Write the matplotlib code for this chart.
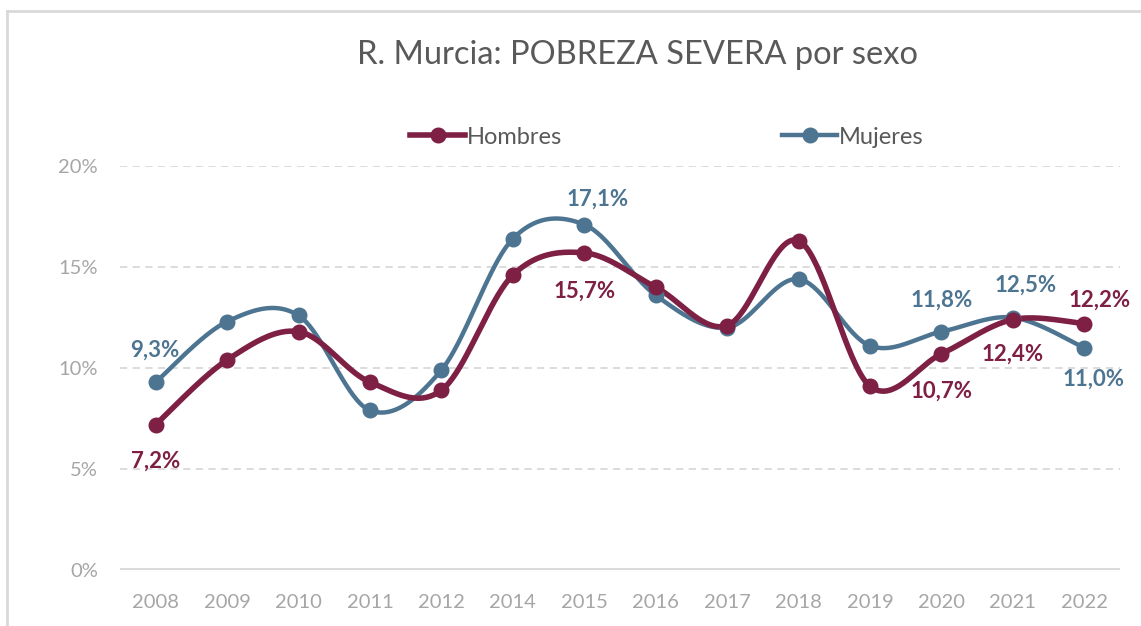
import numpy as np
import matplotlib
matplotlib.use("Agg")
import matplotlib.pyplot as plt
from matplotlib.lines import Line2D
from matplotlib.ticker import FuncFormatter

plt.rcParams['font.family'] = ['Lato', 'DejaVu Sans']

# datos (%)
years = ['2008', '2009', '2010', '2011', '2012', '2014', '2015',
         '2016', '2017', '2018', '2019', '2020', '2021', '2022']
hombres = [7.2, 10.4, 11.8, 9.3, 8.9, 14.6, 15.7, 14.0, 12.1, 16.3, 9.1, 10.7, 12.4, 12.2]
mujeres = [9.3, 12.3, 12.6, 7.9, 9.9, 16.4, 17.1, 13.6, 12.0, 14.4, 11.1, 11.8, 12.5, 11.0]

C_H = '#7E1F44'
C_M = '#4D7591'
GRID = '#D9D9D9'
TXT = '#A6A6A6'

# etiquetas visibles: (indice, dx px, dy px)
labels_h = [(0, 0, -37), (6, 0, -38), (11, 0, -37), (12, 0, -35), (13, 15, 23)]
labels_m = [(0, -1, 32), (6, 13, 25), (11, 0, 31), (12, 13, 32), (13, 9, -31)]


def smooth(xs, ys, n=40):
    """curva suavizada tipo Excel (bezier con tangentes catmull-rom)"""
    p = np.column_stack([xs, ys]).astype(float)
    ext = np.vstack([p[0], p, p[-1]])
    out = []
    t = np.linspace(0, 1, n)[:, None]
    for i in range(len(p) - 1):
        p0, p1, p2, p3 = ext[i], ext[i + 1], ext[i + 2], ext[i + 3]
        c1 = p1 + (p2 - p0) / 6
        c2 = p2 - (p3 - p1) / 6
        seg = ((1 - t) ** 3) * p1 + 3 * ((1 - t) ** 2) * t * c1 + 3 * (1 - t) * t ** 2 * c2 + t ** 3 * p2
        out.append(seg if i == 0 else seg[1:])
    out = np.vstack(out)
    return out[:, 0], out[:, 1]


def fmt(v):
    return f"{v:.1f}".replace('.', ',') + '%'


fig = plt.figure(figsize=(11.41, 6.26), dpi=100)
ax = fig.add_axes([120 / 1141, 1 - 570 / 626, 1000 / 1141, 404 / 626])

x = np.arange(len(years))
for vals, col, lw in [(mujeres, C_M, 3.2), (hombres, C_H, 4.0)]:
    sx, sy = smooth(x, vals)
    ax.plot(sx, sy, color=col, lw=lw, solid_capstyle='round', zorder=3, clip_on=False)
    ax.plot(x, vals, 'o', color=col, ms=10.5, zorder=4, clip_on=False)

for vals, col, lab in [(hombres, C_H, labels_h), (mujeres, C_M, labels_m)]:
    for i, dx, dy in lab:
        ax.annotate(fmt(vals[i]), (x[i], vals[i]), xytext=(dx * 0.72, dy * 0.72),
                    textcoords='offset points', ha='center', va='center',
                    fontsize=16, fontweight='bold', color=col, zorder=5)

ax.set_xlim(-0.5, len(years) - 0.5)
ax.set_ylim(0, 20)
ax.set_xticks(x)
ax.set_xticklabels(years)
ax.set_yticks([0, 5, 10, 15, 20])
ax.yaxis.set_major_formatter(FuncFormatter(lambda v, p: f"{v:.0f}%"))
ax.tick_params(length=0, labelsize=14.5, labelcolor=TXT)
ax.tick_params(axis='x', pad=17)
ax.tick_params(axis='y', pad=16)
for s in ax.spines.values():
    s.set_visible(False)
for yv in [5, 10, 15, 20]:
    ax.axhline(yv, color=GRID, lw=1.3, ls=(0, (4, 3)), zorder=1)
ax.axhline(0, color=GRID, lw=2.8, zorder=1)

fig.text(0.559, 1 - 55 / 626, 'R. Murcia: POBREZA SEVERA por sexo', ha='center', va='center',
         fontsize=23.5, color='#595959')

handles = [Line2D([], [], color=C_H, lw=4.0, marker='o', ms=10.5),
           Line2D([], [], color=C_M, lw=3.2, marker='o', ms=10.5)]
fig.legend(handles, ['Hombres', 'Mujeres'], loc='center', bbox_to_anchor=(667 / 1141, 1 - 137 / 626),
           ncol=2, frameon=False, fontsize=17, labelcolor='#595959', handlelength=2.33,
           handletextpad=0.08, columnspacing=9.3)

# marco del grafico
fig.add_artist(Line2D([7 / 1141, 7 / 1141], [0, 1 - 11 / 626], color=GRID, lw=2, transform=fig.transFigure))
fig.add_artist(Line2D([7 / 1141, 1], [1 - 11 / 626, 1 - 11 / 626], color=GRID, lw=2, transform=fig.transFigure))

fig.savefig('out.png', dpi=100)
